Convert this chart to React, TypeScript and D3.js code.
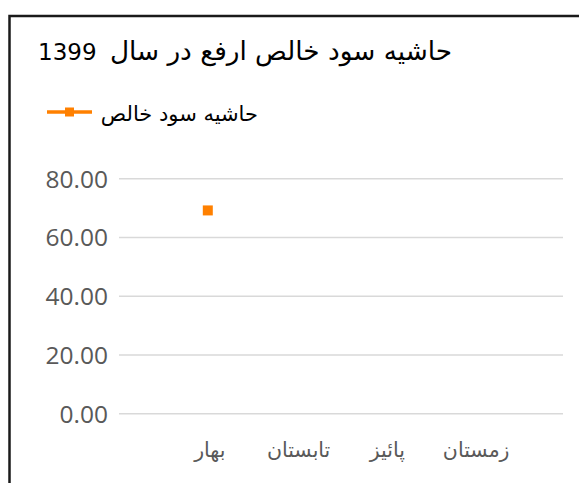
import React from "react";
import * as d3 from "d3";

const titleText = "حاشیه سود خالص ارفع در سال";
const titleYear = "1399";
const seriesName = "حاشیه سود خالص";
const categories = ["بهار", "تابستان", "پائیز", "زمستان"];
const values: (number | null)[] = [69.2, null, null, null];
const yTicks = [0, 20, 40, 60, 80];

const W = 579;
const H = 483;
const ORANGE = "#ff8000";
const AR = "DejaVu Sans, Tahoma, sans-serif";

export default function App() {
  const x = d3.scalePoint<string>().domain(categories).range([119, 563]).padding(1);
  const y = d3.scaleLinear().domain([0, 80]).range([413.7, 178.7]);
  const fmt = d3.format(".2f");
  const line = d3
    .line<number | null>()
    .defined((d) => d != null)
    .x((_, i) => x(categories[i]) as number)
    .y((d) => y(d as number));

  return (
    <svg
      width={W}
      height={H}
      style={{ position: "absolute", left: 0, top: 0, background: "#fff" }}
    >
      <rect x={9.5} y={16} width={W + 20} height={H + 20} fill="#fff" stroke="#1a1a1a" strokeWidth={2.5} />
      <text x={38} y={60} fontFamily={AR} fontSize={23} fill="#000">
        {titleYear}
      </text>
      <text x={452} y={60} textAnchor="end" fontFamily={AR} fontSize={26.3} fill="#000">
        {titleText}
      </text>
      {/* legend */}
      <line x1={47} x2={92} y1={112} y2={112} stroke={ORANGE} strokeWidth={3.5} />
      <rect x={65} y={107.5} width={9} height={9} fill={ORANGE} />
      <text x={258} y={121} textAnchor="end" fontFamily={AR} fontSize={21} fill="#000">
        {seriesName}
      </text>
      {/* grid */}
      {yTicks.map((t) => (
        <g key={t}>
          <line x1={119} x2={563} y1={y(t)} y2={y(t)} stroke="#d9d9d9" strokeWidth={1.5} />
          <text
            x={108}
            y={y(t)}
            dy="0.36em"
            textAnchor="end"
            fontFamily="'Open Sans', 'Noto Sans', sans-serif"
            fontSize={24.5}
            fill="#595959"
          >
            {fmt(t)}
          </text>
        </g>
      ))}
      {categories.map((c) => (
        <text
          key={c}
          x={(x(c) as number) + 2}
          y={457}
          textAnchor="middle"
          fontFamily={AR}
          fontSize={20.5}
          fill="#595959"
        >
          {c}
        </text>
      ))}
      <path d={line(values) || ""} fill="none" stroke={ORANGE} strokeWidth={3} />
      {values.map((v, i) =>
        v == null ? null : (
          <rect
            key={i}
            x={(x(categories[i]) as number) - 5}
            y={y(v) - 5}
            width={10}
            height={10}
            fill={ORANGE}
          />
        )
      )}
    </svg>
  );
}
